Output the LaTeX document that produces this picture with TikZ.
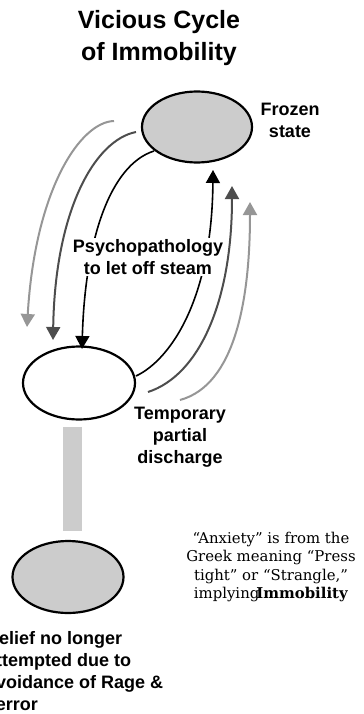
\documentclass[tikz,border=0pt]{standalone}
\usepackage{fontspec}
\setmainfont{DejaVu Serif}
\setsansfont{Liberation Sans}
\usetikzlibrary{shapes.geometric,arrows.meta}
\definecolor{fillgray}{HTML}{CCCCCC}
\definecolor{darkgray}{HTML}{4D4D4D}
\definecolor{lightgray}{HTML}{969696}

\begin{document}
\begin{tikzpicture}[
    x=1bp, y=-1bp,
    blob/.style={%
      draw,
      ellipse,
      line width=2.2bp,
      inner sep=0pt,
    },
    lbl/.style={%
      font=\sffamily\bfseries\fontsize{18bp}{22bp}\selectfont,
      align=center,
      inner sep=0pt,
    },
    arr/.style={%
      -{Triangle[width=14bp,length=13bp]},
      line width=1.6bp,
    },
  ]
    \useasboundingbox (0,0) rectangle (363,714);

    \node [lbl, font=\sffamily\bfseries\fontsize{25bp}{32bp}\selectfont] (title) at (159,38) {Vicious Cycle\\of Immobility};

    \node [blob, fill=fillgray, minimum width=110bp, minimum height=71bp] (frozen) at (197,127) {};
    \node [blob, fill=white, minimum width=112bp, minimum height=73bp] (discharge) at (79,383) {};
    \node [blob, fill=fillgray, minimum width=111bp, minimum height=72bp] (relief) at (68,577) {};

    \node [lbl] (frozenText) at (290,120) {Frozen\\state};
    \node [lbl] (dischargeText) at (180,437) {Temporary\\partial\\discharge};
    \node [lbl, align=left, anchor=north west] (reliefText) at (-14,631) {Relief no longer\\attempted due to\\avoidance of Rage \&\\Terror};

    % top ends and bottom ends of the six arrows
    \coordinate (d1) at (154,151);
    \coordinate (d2) at (136,132);
    \coordinate (d3) at (114,121);
    \coordinate (e1) at (82,349);
    \coordinate (e2) at (53,340);
    \coordinate (e3) at (27,327);
    \coordinate (u1) at (136,376);
    \coordinate (u2) at (148,392);
    \coordinate (u3) at (180,400);
    \coordinate (v1) at (213,170);
    \coordinate (v2) at (232,186);
    \coordinate (v3) at (250,202);

    \draw [arr, lightgray, line width=2bp] (d3) .. controls (80,122) and (35,190) .. (e3);
    \draw [arr, darkgray, line width=2bp] (d2) .. controls (95,140) and (55,210) .. (e2);
    \draw [arr, black] (d1) .. controls (110,165) and (85,240) .. (e1);
    \draw [arr, black] (u1) .. controls (170,360) and (212,300) .. (v1);
    \draw [arr, darkgray, line width=2bp] (u2) .. controls (200,375) and (232,300) .. (v2);
    \draw [arr, lightgray, line width=2bp] (u3) .. controls (235,385) and (250,300) .. (v3);

    \node [lbl, fill=white, inner sep=1bp] (psychoText) at (148,257) {Psychopathology\\to let off steam};

    \fill [fillgray] (63,427) rectangle (82,531);

    \node [align=center, inner sep=0pt, font=\fontsize{14.9bp}{18.5bp}\selectfont] (greekText) at (271,567)
      {“Anxiety” is from the\\Greek meaning “Press\\tight” or “Strangle,”\\implying\hspace{-3bp}\textbf{Immobility}};
\end{tikzpicture}
\end{document}
